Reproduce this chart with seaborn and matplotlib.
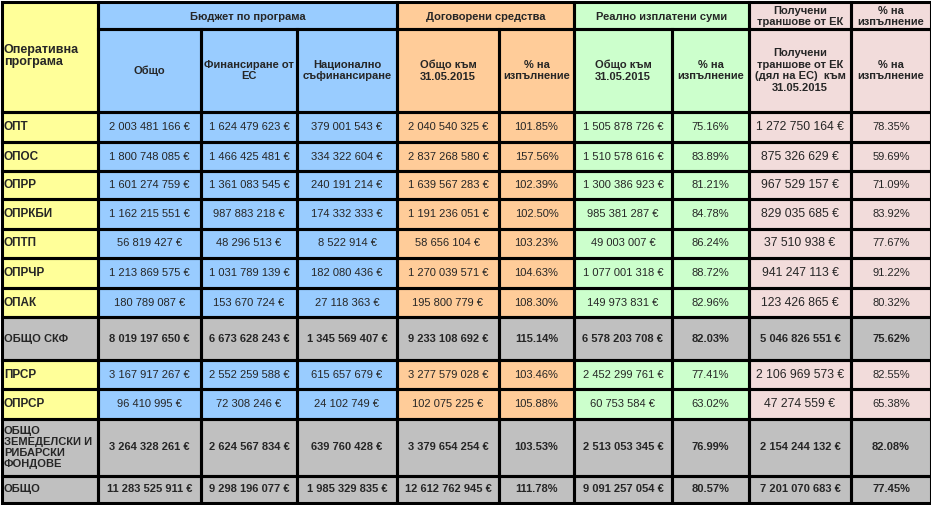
import matplotlib
matplotlib.use("Agg")
import matplotlib.pyplot as plt
from matplotlib.colors import ListedColormap
from matplotlib.patches import Rectangle
import numpy as np
import seaborn as sns

programs = ["ОПТ", "ОПОС", "ОПРР", "ОПРКБИ", "ОПТП", "ОПРЧР", "ОПАК", "ОБЩО СКФ",
            "ПРСР", "ОПРСР", "ОБЩО\nЗЕМЕДЕЛСКИ И\nРИБАРСКИ\nФОНДОВЕ", "ОБЩО"]
budget_total = [2003481166, 1800748085, 1601274759, 1162215551, 56819427, 1213869575,
                180789087, 8019197650, 3167917267, 96410995, 3264328261, 11283525911]
budget_eu = [1624479623, 1466425481, 1361083545, 987883218, 48296513, 1031789139,
             153670724, 6673628243, 2552259588, 72308246, 2624567834, 9298196077]
budget_nat = [379001543, 334322604, 240191214, 174332333, 8522914, 182080436,
              27118363, 1345569407, 615657679, 24102749, 639760428, 1985329835]
contracted = [2040540325, 2837268580, 1639567283, 1191236051, 58656104, 1270039571,
              195800779, 9233108692, 3277579028, 102075225, 3379654254, 12612762945]
contracted_pct = [101.85, 157.56, 102.39, 102.50, 103.23, 104.63,
                  108.30, 115.14, 103.46, 105.88, 103.53, 111.78]
paid = [1505878726, 1510578616, 1300386923, 985381287, 49003007, 1077001318,
        149973831, 6578203708, 2452299761, 60753584, 2513053345, 9091257054]
paid_pct = [75.16, 83.89, 81.21, 84.78, 86.24, 88.72,
            82.96, 82.03, 77.41, 63.02, 76.99, 80.57]
ec_received = [1272750164, 875326629, 967529157, 829035685, 37510938, 941247113,
               123426865, 5046826551, 2106969573, 47274559, 2154244132, 7201070683]
ec_pct = [78.35, 59.69, 71.09, 83.92, 77.67, 91.22,
          80.32, 75.62, 82.55, 65.38, 82.08, 77.45]

group_headers = ["Бюджет по програма", "Договорени средства", "Реално изплатени суми",
                 "Получени\nтраншове от ЕК", "% на\nизпълнение"]
sub_headers = ["Общо", "Финансиране от\nЕС", "Национално\nсъфинансиране",
               "Общо към\n31.05.2015", "% на\nизпълнение",
               "Общо към\n31.05.2015", "% на\nизпълнение",
               "Получени\nтраншове от ЕК\n(дял на ЕС)  към\n31.05.2015", "% на\nизпълнение"]
first_header = "Оперативна\nпрограма"

# layout (pixels)
x_edges = [2, 98, 201, 297, 397, 499, 574, 672, 749, 851, 931]
y_edges = [2, 29, 112, 142, 171, 199, 229, 258, 288, 317, 360, 389, 419, 476, 503]
group_spans = [(1, 4), (4, 6), (6, 8), (8, 9), (9, 10)]
col_group = [0, 1, 1, 1, 2, 2, 3, 3, 4, 4]

sns.set_theme(style="white")
plt.rcParams['font.family'] = ['Liberation Sans', 'DejaVu Sans']

palette = sns.color_palette(["#FFFF99", "#99CCFF", "#FFCC99", "#CCFFCC", "#F2DCDB", "#C0C0C0"])
cmap = ListedColormap(palette)

is_total = [p.startswith("ОБЩО") for p in programs]
codes = [col_group, col_group]
for tot in is_total:
    codes.append([5] * 10 if tot else col_group)
codes = np.array(codes)

fig = plt.figure(figsize=(9.31, 5.05), dpi=100)
ax = fig.add_axes([0, 0, 1, 1])
ax.pcolormesh(x_edges, y_edges, codes, cmap=cmap, vmin=-0.5, vmax=5.5, shading="flat")
ax.set_xlim(0, 931)
ax.set_ylim(505, 0)
ax.set_axis_off()

lw = 2.2
label_x = x_edges[0] + 1.8


def box(c0, c1, r0, r1):
    x0, x1 = x_edges[c0], x_edges[c1]
    y0, y1 = y_edges[r0], y_edges[r1]
    ax.add_patch(Rectangle((x0, y0), x1 - x0, y1 - y0, fill=False,
                           edgecolor="black", lw=lw, zorder=3))


def center(c0, c1, r0, r1):
    return (x_edges[c0] + x_edges[c1]) / 2, (y_edges[r0] + y_edges[r1]) / 2


# header
box(0, 1, 0, 2)
ax.text(label_x, 56, first_header, ha="left", va="center",
        fontsize=9, fontweight="bold", linespacing=1.1)
for (c0, c1), label in zip(group_spans, group_headers):
    box(c0, c1, 0, 1)
    cx, cy = center(c0, c1, 0, 1)
    ax.text(cx, cy + 1, label, ha="center", va="center", fontsize=8,
            fontweight="bold", linespacing=1.1)
for c, label in enumerate(sub_headers, start=1):
    box(c, c + 1, 1, 2)
    cx, cy = center(c, c + 1, 1, 2)
    ax.text(cx, cy, label, ha="center", va="center", fontsize=8,
            fontweight="bold", linespacing=1.2)


def money(v):
    return f"{v:,}".replace(",", " ") + " €"


def pct(v):
    return f"{v:.2f}%"


columns = [budget_total, budget_eu, budget_nat, contracted, contracted_pct,
           paid, paid_pct, ec_received, ec_pct]
is_pct = [False, False, False, False, True, False, True, False, True]

for i, name in enumerate(programs):
    r = i + 2
    weight = "bold" if is_total[i] else "normal"
    box(0, 1, r, r + 1)
    ax.text(label_x, center(0, 1, r, r + 1)[1], name, ha="left", va="center",
            fontsize=8 if is_total[i] else 8.5, fontweight="bold", linespacing=1.15)
    for j, col in enumerate(columns):
        c = j + 1
        box(c, c + 1, r, r + 1)
        cx, cy = center(c, c + 1, r, r + 1)
        txt = pct(col[i]) if is_pct[j] else money(col[i])
        size = 8.8 if (j == 7 and not is_total[i]) else 8
        ax.text(cx, cy, txt, ha="center", va="center", fontsize=size,
                fontweight=weight)

fig.savefig("out.png", dpi=100, facecolor="white")
